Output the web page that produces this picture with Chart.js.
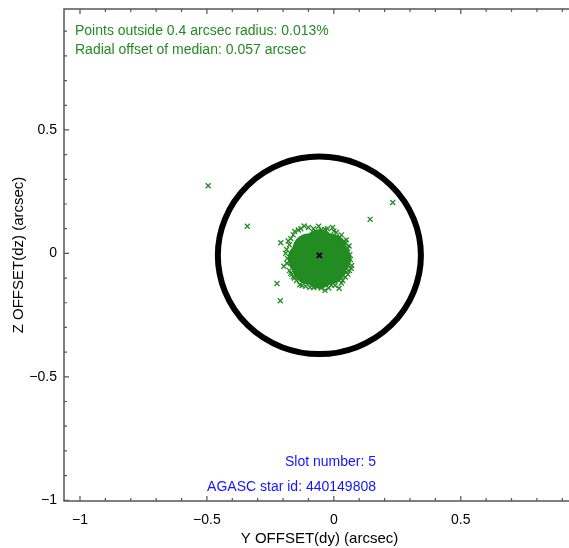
<!DOCTYPE html>
<html>
<head>
<meta charset="utf-8">
<script src="https://cdn.jsdelivr.net/npm/chart.js@4/dist/chart.umd.min.js"></script>
<style>
  html, body { margin: 0; padding: 0; background: #fff; overflow: hidden; }
  #wrap { width: 600px; height: 548px; overflow: hidden; }
  #myChart { display: block; margin-top: -7px; }
</style>
</head>
<body>
<div id="wrap"><canvas id="myChart" width="600" height="555"></canvas></div>
<script>
"use strict";
// Data (arcsec)
const xTicks = [-1, -0.5, 0, 0.5];
const yTicks = [-1, -0.5, 0, 0.5];
const median = [[-0.057, -0.008]];
const radius = 0.4;
// dense core of the star cloud
const cloudCore = [
    [-0.057, -0.022], [-0.119, -0.022], [0.005, -0.022], [-0.057, 0.033], [-0.057, -0.077],
    [-0.100, 0.016], [-0.014, 0.016], [-0.100, -0.060], [-0.014, -0.060],
];
// crosses around the edge of the cloud
const cloudEdge = [
    [-0.17, 0.06], [-0.154, 0.089], [-0.117, 0.111], [-0.08, 0.10], [-0.05, 0.095],
    [-0.025, 0.10], [0.01, 0.085], [0.024, 0.066], [0.045, 0.04], [0.063, -0.005],
    [0.07, -0.049], [0.062, -0.07], [0.045, -0.096], [0.021, -0.141], [-0.01, -0.128],
    [-0.035, -0.15], [-0.065, -0.135], [-0.094, -0.137], [-0.111, -0.133], [-0.134, -0.127],
    [-0.147, -0.11], [-0.165, -0.085], [-0.197, -0.052], [-0.186, 0.016], [-0.183, -0.02],
    [-0.209, 0.043], [-0.175, 0.035], [-0.14, 0.095], [0.04, 0.05], [0.055, 0.02],
    [0.05, -0.075], [-0.005, 0.105], [-0.155, -0.10], [-0.06, 0.11],
    [-0.16, 0.075], [-0.13, 0.10], [-0.10, 0.105], [-0.035, 0.098], [0.0, 0.09],
    [0.03, 0.075], [0.05, 0.055], [0.06, 0.03], [0.065, -0.025], [0.068, -0.06],
    [0.055, -0.085], [0.035, -0.11], [0.005, -0.13], [-0.02, -0.14], [-0.05, -0.14],
    [-0.08, -0.138], [-0.125, -0.13], [-0.16, -0.095], [-0.175, -0.07], [-0.185, -0.04],
    [-0.19, 0.0], [-0.18, 0.05], [0.03, -0.12], [-0.17, -0.08],
];
const outliers = [
    [-0.495, 0.274], [-0.341, 0.110], [0.143, 0.138], [0.232, 0.206],
    [-0.224, -0.122], [-0.211, -0.192],
];
const noteTop = ["Points outside 0.4 arcsec radius: 0.013%", "Radial offset of median: 0.057 arcsec"];
const noteBottom = ["Slot number: 5", "AGASC star id: 440149808"];

const GREEN = "rgb(34, 139, 34)";
const FONT = "'Liberation Sans', Arial, sans-serif";
const SHIFT = 7; // canvas is pulled up by this many pixels
const pts = (a) => a.map(([x, y]) => ({ x: x, y: y }));
const fmt = (v) => (v < 0 ? "\u2212" + Math.abs(v) : String(v));

// circle, inward ticks, frame and text notes
const decor = {
    id: "decor",
    afterDatasetsDraw(chart) {
        const { ctx, chartArea: a, scales: { x, y } } = chart;
        ctx.save();
        // 0.4 arcsec circle round the median
        const cx = x.getPixelForValue(median[0][0]);
        const cy = y.getPixelForValue(median[0][1]);
        const rx = Math.abs(x.getPixelForValue(median[0][0] + radius) - cx);
        const ry = Math.abs(y.getPixelForValue(median[0][1] + radius) - cy);
        ctx.lineWidth = 6;
        ctx.strokeStyle = "#000";
        ctx.beginPath();
        ctx.ellipse(cx, cy, rx, ry, 0, 0, Math.PI * 2);
        ctx.stroke();

        // frame (left, bottom, top)
        ctx.strokeStyle = "#555";
        ctx.lineWidth = 1.5;
        ctx.beginPath();
        ctx.moveTo(a.right + 30, a.top);
        ctx.lineTo(a.left, a.top);
        ctx.lineTo(a.left, a.bottom);
        ctx.lineTo(a.right + 30, a.bottom);
        ctx.stroke();

        // inward ticks every 0.1
        ctx.lineWidth = 1.2;
        ctx.beginPath();
        for (let i = -10; i <= 9; i++) {
            const v = i / 10;
            const len = i % 5 === 0 ? 5 : 3;
            const px = x.getPixelForValue(v);
            ctx.moveTo(px, a.bottom); ctx.lineTo(px, a.bottom - len);
            ctx.moveTo(px, a.top); ctx.lineTo(px, a.top + len);
            const py = y.getPixelForValue(v);
            if (py >= a.top && py <= a.bottom) {
                ctx.moveTo(a.left, py); ctx.lineTo(a.left + len, py);
            }
        }
        ctx.stroke();

        // notes
        ctx.font = "14px " + FONT;
        ctx.textBaseline = "middle";
        ctx.fillStyle = GREEN;
        ctx.textAlign = "left";
        ctx.fillText(noteTop[0], a.left + 11, 31 + SHIFT);
        ctx.fillText(noteTop[1], a.left + 11, 50 + SHIFT);
        ctx.fillStyle = "rgb(20, 20, 255)";
        ctx.textAlign = "right";
        ctx.fillText(noteBottom[0], 376, 462 + SHIFT);
        ctx.fillText(noteBottom[1], 376, 487 + SHIFT);
        ctx.restore();
    },
};

const data = {
    datasets: [
        {
            label: "Median",
            data: pts(median),
            pointStyle: "crossRot",
            pointRadius: 3.5,
            borderWidth: 2,
            borderColor: "#000",
        },
        {
            label: "Edge",
            data: pts(cloudEdge.concat(outliers)),
            pointStyle: "crossRot",
            pointRadius: 3.5,
            borderWidth: 1.3,
            borderColor: GREEN,
        },
        {
            label: "Core",
            data: pts(cloudCore),
            pointStyle: "circle",
            pointRadius: 16,
            borderWidth: 0,
            backgroundColor: GREEN,
        },
    ],
};

const config = {
    type: "scatter",
    data: data,
    options: {
        responsive: false,
        animation: false,
        layout: { padding: { top: 8, right: 25, left: 0, bottom: 0 } },
        plugins: { legend: { display: false }, tooltip: { enabled: false } },
        scales: {
            x: {
                type: "linear",
                min: -1.063,
                max: 0.95,
                grid: { display: false, drawTicks: false },
                border: { display: false },
                afterFit: (s) => { s.height = 47; },
                afterBuildTicks: (s) => { s.ticks = xTicks.map((v) => ({ value: v })); },
                ticks: {
                    padding: 11,
                    color: "#000",
                    font: { family: FONT, size: 14 },
                    callback: fmt,
                    maxRotation: 0,
                },
                title: {
                    display: true,
                    text: "Y OFFSET(dy) (arcsec)",
                    color: "#000",
                    font: { family: FONT, size: 15 },
                    padding: { top: 0, bottom: 0 },
                },
            },
            y: {
                type: "linear",
                min: -1.003,
                max: 0.99,
                grid: { display: false, drawTicks: false },
                border: { display: false },
                afterFit: (s) => { s.width = 64; },
                afterBuildTicks: (s) => { s.ticks = yTicks.map((v) => ({ value: v })); },
                ticks: {
                    padding: 7,
                    color: "#000",
                    font: { family: FONT, size: 14 },
                    callback: fmt,
                },
                title: {
                    display: true,
                    text: "Z OFFSET(dz) (arcsec)",
                    color: "#000",
                    font: { family: FONT, size: 15 },
                    padding: { top: 10, bottom: 0 },
                },
            },
        },
    },
    plugins: [decor],
};

const myChart = new Chart(document.getElementById("myChart"), config);
</script>
</body>
</html>
